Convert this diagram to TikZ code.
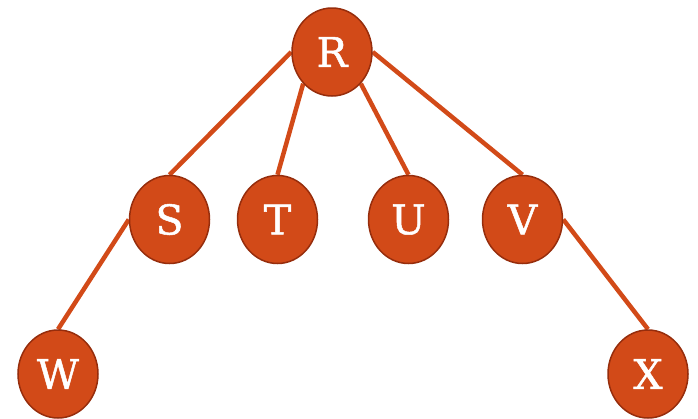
\documentclass[tikz,border=0pt]{standalone}
\usepackage{fontspec}
\setmainfont{DejaVu Serif}
\newfontfamily\vertfont[FakeBold=1.2]{DejaVu Serif}
\usetikzlibrary{shapes.geometric,backgrounds}
\definecolor{nodefill}{RGB}{210,74,24}
\definecolor{nodeborder}{RGB}{150,45,12}
\begin{document}
\begin{tikzpicture}[x=1pt,y=-1pt,
  vert/.style={ellipse, minimum width=80pt, minimum height=88pt, inner sep=0pt,
    fill=nodefill, draw=nodeborder, line width=1.5pt, text=white,
    font=\vertfont\fontsize{41}{41}\selectfont},
  edge/.style={draw=nodefill, line width=4.5pt}]
\useasboundingbox (0,0) rectangle (698,418);
\node[vert] (R) at (332,52) {R};
\node[vert] (S) at (169.5,219.5) {S};
\node[vert] (T) at (277.5,219.5) {T};
\node[vert] (U) at (408.5,219.5) {U};
\node[vert] (V) at (522.5,219.5) {V};
\node[vert] (W) at (58,374) {W};
\node[vert] (X) at (648,374) {X};
\begin{pgfonlayer}{background}
\draw[edge] (R.west) -- (S.north);
\draw[edge] (R.south west) -- (T.north);
\draw[edge] (R.south east) -- (U.north);
\draw[edge] (R.east) -- (V.north);
\draw[edge] (S.west) -- (W.north);
\draw[edge] (V.east) -- (X.north);
\end{pgfonlayer}
\end{tikzpicture}
\end{document}
